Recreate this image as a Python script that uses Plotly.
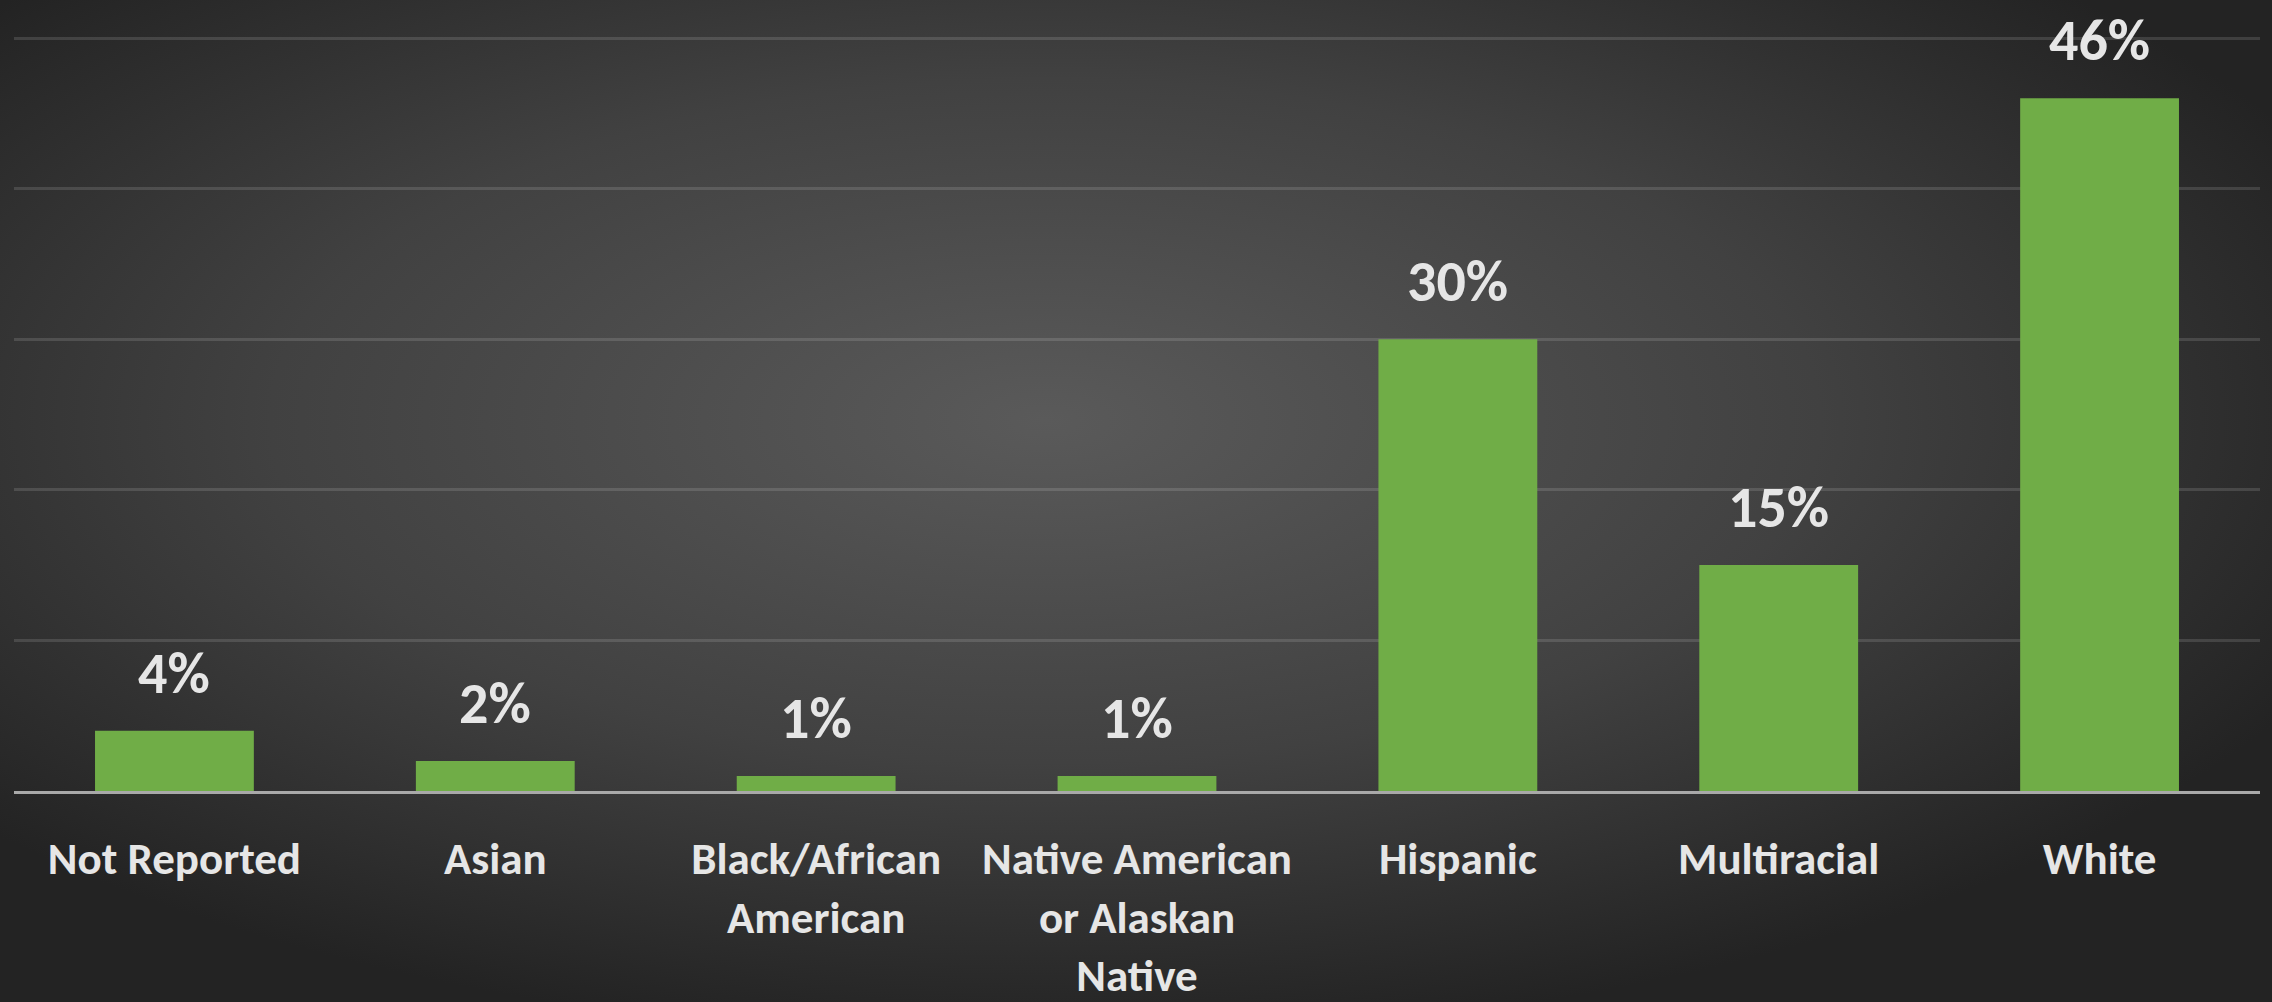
import base64
import plotly.graph_objects as go

# Share of respondents by race / ethnicity (percent)
categories = [
    "Not Reported",
    "Asian",
    "Black/African<br>American",
    "Native American<br>or Alaskan<br>Native",
    "Hispanic",
    "Multiracial",
    "White",
]
values = [4, 2, 1, 1, 30, 15, 46]
value_labels = [f"{v}%" for v in values]

Y_MAX = 50.2

W, H = 2272, 1002
M_L, M_R, M_T, M_B = 14, 12, 35, 211
PW, PH = W - M_L - M_R, H - M_T - M_B

FONT = "Carlito, Calibri, Lato, sans-serif"
TEXT_COLOR = "#e6e6e6"
BAR_COLOR = "#70ad47"

# Dark radial backdrop, lighter in the middle
svg = (
    f'<svg xmlns="http://www.w3.org/2000/svg" width="{W}" height="{H}" '
    f'viewBox="0 0 {W} {H}" preserveAspectRatio="none">'
    '<defs><radialGradient id="bg" cx="0.46" cy="0.42" r="0.62">'
    '<stop offset="0" stop-color="#5a5a5a"/>'
    '<stop offset="0.55" stop-color="#414141"/>'
    '<stop offset="1" stop-color="#232323"/>'
    '</radialGradient></defs>'
    '<rect x="0" y="0" width="100%" height="100%" fill="url(#bg)"/></svg>'
)
bg_uri = "data:image/svg+xml;base64," + base64.b64encode(svg.encode()).decode()

fig = go.Figure(
    go.Bar(
        x=categories,
        y=values,
        marker=dict(color=BAR_COLOR, line=dict(width=0)),
        hoverinfo="skip",
    )
)

for cat, val, lab in zip(categories, values, value_labels):
    fig.add_annotation(
        x=cat,
        y=val,
        text=f"<b>{lab}</b>",
        showarrow=False,
        yanchor="bottom",
        yshift=20,
        font=dict(family=FONT, size=58, color=TEXT_COLOR),
    )

fig.update_layout(
    width=W,
    height=H,
    margin=dict(l=M_L, r=M_R, t=M_T, b=M_B, pad=0, autoexpand=False),
    paper_bgcolor="#2e2e2e",
    plot_bgcolor="rgba(0,0,0,0)",
    bargap=0.505,
    showlegend=False,
    images=[
        dict(
            source=bg_uri,
            xref="paper",
            yref="paper",
            x=-M_L / PW,
            y=1 + M_T / PH,
            sizex=W / PW,
            sizey=H / PH,
            xanchor="left",
            yanchor="top",
            sizing="stretch",
            layer="below",
        )
    ],
    xaxis=dict(
        automargin=False,
        showgrid=False,
        showline=True,
        linecolor="#a9a9a9",
        linewidth=3,
        ticks="",
        ticklabelstandoff=26,
        tickfont=dict(family=FONT, size=45, color=TEXT_COLOR),
        tickprefix="<b>",
        ticksuffix="</b>",
        layer="above traces",
        fixedrange=True,
    ),
    yaxis=dict(
        automargin=False,
        range=[0, Y_MAX],
        tickvals=[0, 10, 20, 30, 40, 50],
        showgrid=True,
        gridcolor="rgba(255,255,255,0.13)",
        gridwidth=3,
        zeroline=False,
        showticklabels=False,
        ticks="",
        fixedrange=True,
    ),
)

fig.write_html("out.html")
